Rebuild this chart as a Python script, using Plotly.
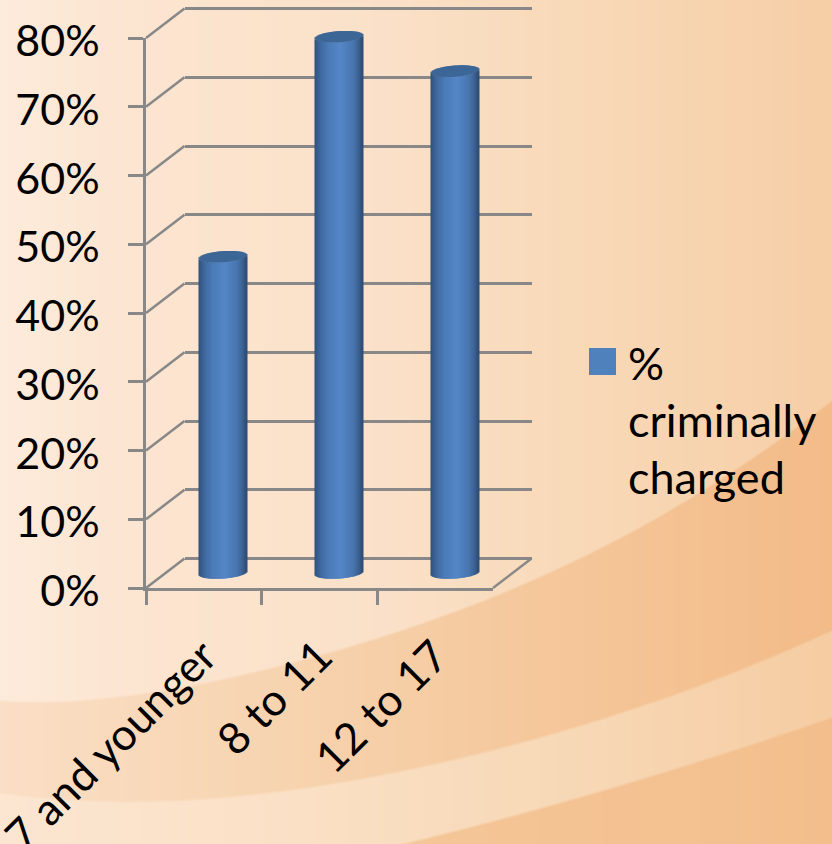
import base64, struct, zlib
import numpy as np
import plotly.graph_objects as go

# ---- data ----
categories = ["7 and younger", "8 to 11", "12 to 17"]
charged = [0.46, 0.78, 0.73]
series_name_lines = ["%", "criminally", "charged"]

W, H = 832, 844
FONT = "Lato"
AXIS = "#888888"
BLACK = "#000000"
LW = 2.5

def px(x): return x / W
def py(y): return 1 - y / H

# ---- geometry (pixels) ----
FX0, FX1, FY0, FY1 = 146, 493, 588, 38      # front plane
DX, DY = 38.5, -29.5                        # depth of the box
MX, MY = 19.5, -15                          # plane of the cylinders
CATW = (FX1 - FX0) / 3
STEP = (FY0 - FY1) / 8                      # pixels per 10%
PX_Y = 0.8 / (FY0 - FY1)                    # data units per pixel

# ---- background picture ----
def curve(pts, xs, deg=5):
    a = np.array(pts, float)
    return np.polyval(np.polyfit(a[:, 0] / 832, a[:, 1], deg), xs / 832)

xs = np.arange(W)
A = curve([(0,700),(53,702),(212,680),(318,657),(424,620),(491,600),(550,570),(653,520),(832,400)], xs)
B = curve([(0,793),(106,800),(265,795),(424,763),(584,727),(690,687),(832,630)], xs, 4)
C = curve([(260,880),(371,844),(530,813),(690,767),(832,715)], xs, 2)

def grad(stops):
    a = np.array(stops, float)
    return np.stack([np.interp(xs, a[:,0], a[:,i]) for i in (1,2,3)], axis=1)

top  = grad([(0,253,235,219),(130,252,229,209),(400,250,224,199),(600,248,216,182),(832,246,206,166)])
dark = grad([(0,250,222,197),(250,247,213,178),(500,245,201,158),(832,243,187,136)])
lite = grad([(0,252,230,209),(300,250,224,197),(600,247,215,180),(832,246,204,162)])
low  = grad([(300,245,200,155),(832,243,190,140)])
yy = np.arange(H)[:, None]
def step(edge): return np.clip((yy - edge[None, :]) / 3 + 0.5, 0, 1)[..., None]
img = top[None, :, :] * np.ones((H, 1, 1))
img = img * (1 - step(A)) + dark[None] * step(A)
img = img * (1 - step(B)) + lite[None] * step(B)
img = img * (1 - step(C)) + low[None] * step(C)
img = img.round().astype(np.uint8)

def png_uri(a):
    h, w, _ = a.shape
    raw = b"".join(b"\x00" + a[r].tobytes() for r in range(h))
    def chunk(t, d):
        return struct.pack(">I", len(d)) + t + d + struct.pack(">I", zlib.crc32(t + d) & 0xffffffff)
    data = b"\x89PNG\r\n\x1a\n" + chunk(b"IHDR", struct.pack(">IIBBBBB", w, h, 8, 2, 0, 0, 0)) \
        + chunk(b"IDAT", zlib.compress(raw, 6)) + chunk(b"IEND", b"")
    return "data:image/png;base64," + base64.b64encode(data).decode()

fig = go.Figure()

# back wall and front axes need a trace to exist
fig.add_trace(go.Scatter(x=categories, y=charged, xaxis="x", yaxis="y", mode="markers",
                         marker=dict(opacity=0), hoverinfo="skip", showlegend=False))
fig.add_trace(go.Scatter(x=categories, y=charged, xaxis="x2", yaxis="y2", mode="markers",
                         marker=dict(opacity=0), hoverinfo="skip", showlegend=False))

# ---- cylinders as 1px bar strips ----
R = 24.0
ELL = 5.6
TILT = 3.4 / 48
SH = np.array([(0,46,80,124),(.05,54,90,138),(.14,66,108,162),(.3,76,124,184),(.55,85,135,200),
               (.8,73,118,175),(.92,60,98,146),(1,44,75,115)], float)
CAP = "#3d6695"
vals = np.array(charged)
for i in range(int(2 * R)):
    d = i + 0.5 - R
    u = (d + R) / (2 * R)
    c = [int(np.interp(u, SH[:,0], SH[:,k])) for k in (1,2,3)]
    e = ELL * np.sqrt(1 - (d / R) ** 2) * PX_Y
    t = d * TILT * PX_Y
    fig.add_trace(go.Bar(x=categories, y=vals, base=float(t - e), xaxis="x3", yaxis="y3",
                         width=1 / CATW, offset=(i - R) / CATW, cliponaxis=False,
                         marker=dict(color=f"rgb({c[0]},{c[1]},{c[2]})", line=dict(width=0)),
                         hoverinfo="skip", showlegend=False))
    fig.add_trace(go.Bar(x=categories, y=[2 * e] * 3, base=vals + t - e, xaxis="x3", yaxis="y3",
                         width=1 / CATW, offset=(i - R) / CATW, cliponaxis=False,
                         marker=dict(color=CAP, line=dict(width=0)),
                         hoverinfo="skip", showlegend=False))

# ---- side wall and floor lines ----
shapes = []
for k in range(9):
    y = FY0 - k * STEP
    shapes.append(dict(type="line", xref="paper", yref="paper", x0=px(FX0), y0=py(y),
                       x1=px(FX0 + DX), y1=py(y + DY), line=dict(color=AXIS, width=LW), layer="below"))
shapes.append(dict(type="line", xref="paper", yref="paper", x0=px(FX1), y0=py(FY0),
                   x1=px(FX1 + DX), y1=py(FY0 + DY), line=dict(color=AXIS, width=LW), layer="below"))
# legend swatch
shapes.append(dict(type="rect", xref="paper", yref="paper", x0=px(589), x1=px(616), y0=py(375), y1=py(348),
                   fillcolor="#4f81bd", line=dict(width=0)))

annotations = [dict(text=t, xref="paper", yref="paper", x=px(626), y=py(yc), xanchor="left", yanchor="middle",
                    showarrow=False, font=dict(family=FONT, size=45, color=BLACK))
               for t, yc in zip(series_name_lines, (363, 420, 477))]

cat_axis = dict(type="category", categoryorder="array", categoryarray=categories, range=[-0.5, 2.5], automargin=False)

fig.update_layout(
    width=W, height=H, margin=dict(l=0, r=0, t=0, b=0, pad=0), autosize=False,
    paper_bgcolor="rgba(0,0,0,0)", plot_bgcolor="rgba(0,0,0,0)",
    barmode="overlay", showlegend=False,
    font=dict(family=FONT, color=BLACK),
    images=[dict(source=png_uri(img), xref="paper", yref="paper", x=0, y=1, sizex=1, sizey=1,
                 sizing="stretch", xanchor="left", yanchor="top", layer="below")],
    shapes=shapes, annotations=annotations,
    # back wall: the value range is padded so the grid lines at 0% and 80% are drawn
    xaxis=dict(**cat_axis, domain=[px(FX0 + DX), px(FX1 + DX)], anchor="y", showticklabels=False, ticks="",
               showgrid=False, zeroline=False, showline=False),
    yaxis=dict(range=[-0.01, 0.81], dtick=0.1, automargin=False,
               domain=[py(FY0 + DY + STEP / 10), py(FY1 + DY - STEP / 10)], anchor="x",
               showticklabels=False, ticks="",
               showgrid=True, gridcolor=AXIS, gridwidth=LW, zeroline=False, showline=False),
    # front axes with labels
    xaxis2=dict(**cat_axis, domain=[px(FX0), px(FX1)], anchor="y2", tickson="boundaries", ticks="outside",
                ticklen=14, tickwidth=LW, tickcolor=AXIS, showline=True, linecolor=AXIS, linewidth=LW,
                showgrid=False, zeroline=False, tickangle=-45, ticklabelstandoff=22,
                tickfont=dict(family=FONT, size=44, color=BLACK)),
    yaxis2=dict(range=[0, 0.8], dtick=0.1, automargin=False,
                domain=[py(FY0), py(FY1)], anchor="x2", tickformat=".0%", ticks="outside",
                ticklen=15, tickwidth=LW, tickcolor=AXIS, showline=True, linecolor=AXIS, linewidth=LW,
                showgrid=False, zeroline=False, ticklabelstandoff=20, ticklabelshift=3,
                tickfont=dict(family=FONT, size=43, color=BLACK)),
    # plane of the cylinders: range reaches below 0 so the rounded feet are not cut off
    xaxis3=dict(**cat_axis, domain=[px(FX0 + MX), px(FX1 + MX)], anchor="y3", visible=False),
    yaxis3=dict(range=[-0.1, 0.8], dtick=0.1, automargin=False,
                domain=[py(FY0 + MY + STEP), py(FY1 + MY)], anchor="x3", visible=False),
)
fig.write_html("out.html", post_script="document.body.style.margin='0';", config=dict(displayModeBar=False))
